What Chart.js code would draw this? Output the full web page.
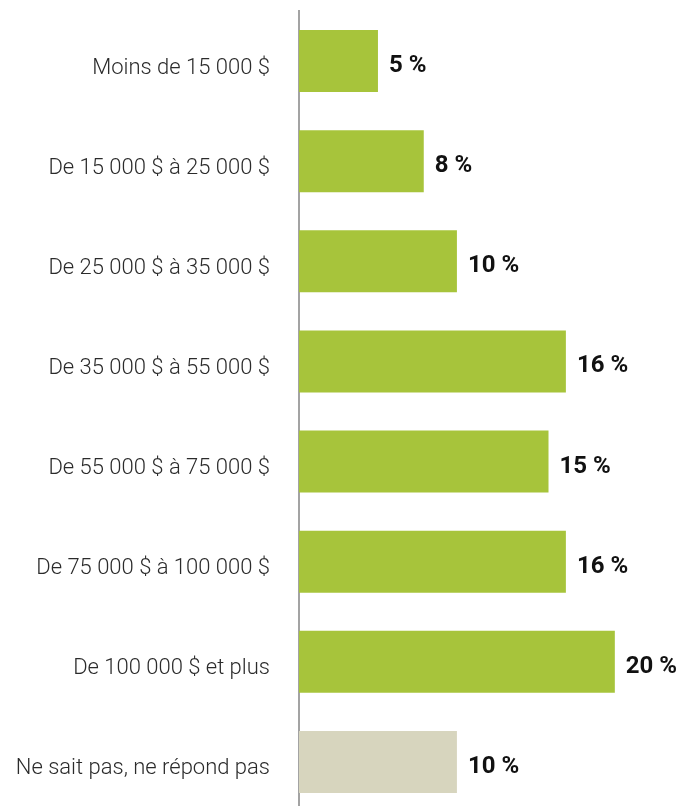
<!DOCTYPE html>
<html lang="fr">
<head>
<meta charset="utf-8">
<title>Revenu du ménage</title>
<script src="https://cdn.jsdelivr.net/npm/chart.js@4"></script>
<style>
  html, body { margin: 0; padding: 0; background: #fff; overflow: hidden; }
  canvas { display: block; }
</style>
</head>
<body>
<canvas id="barChart" width="680" height="814"></canvas>
<script>
const categories = [
  "Moins de 15 000 $",
  "De 15 000 $ à 25 000 $",
  "De 25 000 $ à 35 000 $",
  "De 35 000 $ à 55 000 $",
  "De 55 000 $ à 75 000 $",
  "De 75 000 $ à 100 000 $",
  "De 100 000 $ et plus",
  "Ne sait pas, ne répond pas",
];
// bar lengths as drawn (in %)
const values = [5, 7.9, 10, 16.9, 15.8, 16.9, 20, 10];
// labels printed next to the bars
const valueLabels = ["5 %", "8 %", "10 %", "16 %", "15 %", "16 %", "20 %", "10 %"];
const barColors = ["#a7c43b", "#a7c43b", "#a7c43b", "#a7c43b", "#a7c43b", "#a7c43b", "#a7c43b", "#d7d5be"];

const fontFamily = "Roboto, 'Noto Sans', sans-serif";

const valueLabelPlugin = {
  id: "valueLabels",
  afterDatasetsDraw(chart) {
    const ctx = chart.ctx;
    const meta = chart.getDatasetMeta(0);
    ctx.save();
    ctx.font = "bold 24px " + fontFamily;
    ctx.fillStyle = "#111111";
    ctx.textAlign = "left";
    ctx.textBaseline = "middle";
    meta.data.forEach((bar, i) => {
      ctx.fillText(valueLabels[i], bar.x + 11, bar.y + 5);
    });
    ctx.restore();
  },
};

const ctx = document.getElementById("barChart").getContext("2d");
new Chart(ctx, {
  type: "bar",
  data: {
    labels: categories,
    datasets: [
      {
        data: values,
        backgroundColor: barColors,
        barPercentage: 0.62,
        categoryPercentage: 1,
      },
    ],
  },
  options: {
    indexAxis: "y",
    responsive: false,
    animation: false,
    layout: { padding: { top: 11, bottom: 2, right: 2, left: 0 } },
    plugins: {
      legend: { display: false },
      tooltip: { enabled: false },
    },
    scales: {
      x: {
        display: false,
        min: 0,
        max: 24,
      },
      y: {
        afterFit(scale) {
          scale.width = 299;
          // tick padding would otherwise shrink the plot vertically
          scale.paddingTop = 0;
          scale.paddingBottom = 0;
        },
        grid: { color: "transparent", drawTicks: false },
        border: { display: true, color: "#a3a3a3", width: 2 },
        ticks: {
          padding: 29,
          labelOffset: 7,
          color: "#2b2b2b",
          font: { family: fontFamily, size: 22, weight: "300" },
        },
      },
    },
  },
  plugins: [valueLabelPlugin],
});
</script>
</body>
</html>
